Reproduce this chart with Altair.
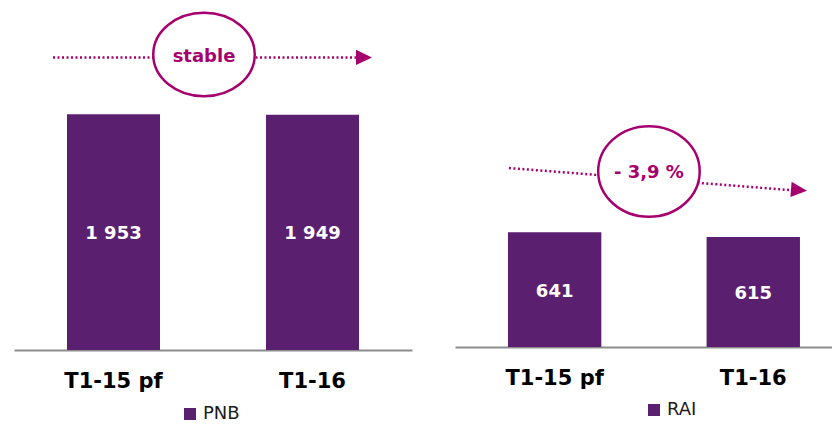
import altair as alt
import pandas as pd

# ---- data ----
categories = ["T1-15 pf", "T1-16"]
pnb_values = [1953, 1949]
rai_values = [641, 615]
pnb_labels = ["1 953", "1 949"]
rai_labels = ["641", "615"]
series = ["PNB", "RAI"]
trend_labels = ["stable", "- 3,9 %"]
pnb_trend = [2424, 2424]   # trend arrow level (start, end) in PNB units
rai_trend = [1000, 877]    # trend arrow level (start, end) in RAI units
pnb_badge = 2448
rai_badge = 981

PURPLE = "#5B1F70"
MAGENTA = "#A6006E"
FONT = "DejaVu Sans"
TRIANGLE = "M -1 -0.95 L 1 0 L -1 0.95 Z"


def ellipse_path(ratio):
    return f"M -1 0 A 1 {ratio} 0 1 0 1 0 A 1 {ratio} 0 1 0 -1 0 Z"


def panel(name, values, labels, trend, badge_y, badge_text, ymax, width, height,
          xscale, legend_xy, offs, ell_ratio, tri_angle, text_dy):
    bars_df = pd.DataFrame({"periode": categories, "valeur": values,
                            "libelle": labels, "serie": [name] * len(categories)})
    trend_df = pd.DataFrame({"debut": [categories[0]], "fin": [categories[1]],
                             "y_debut": [trend[0]], "y_fin": [trend[1]],
                             "badge_y": [badge_y], "texte": [badge_text]})
    xaxis = alt.Axis(labelAngle=0, labelFont=FONT, labelFontSize=21, labelFontWeight="bold",
                     labelColor="black", labelPadding=20, ticks=False,
                     domainColor="#8c8c8c", domainWidth=2, grid=False)
    yscale = alt.Scale(domain=[0, ymax])

    def X(field):
        return alt.X(f"{field}:N", sort=categories, scale=xscale, axis=xaxis, title=None)

    def Y(field):
        return alt.Y(f"{field}:Q", scale=yscale, axis=None)

    base = alt.Chart(bars_df)
    bars = base.mark_bar().encode(
        x=X("periode"), y=Y("valeur"),
        color=alt.Color("serie:N", scale=alt.Scale(domain=[name], range=[PURPLE]),
                        legend=alt.Legend(title=None, orient="none", legendX=legend_xy[0],
                                          legendY=legend_xy[1], symbolType="square",
                                          symbolSize=144, symbolStrokeWidth=0,
                                          labelFont=FONT, labelFontSize=18,
                                          labelColor="#1a1a1a", labelOffset=4, padding=0)))
    vals = base.transform_calculate(milieu="datum.valeur / 2").mark_text(
        font=FONT, fontSize=18, fontWeight="bold", color="white", dy=2
    ).encode(x=X("periode"), y=Y("milieu"), text="libelle:N")

    tb = alt.Chart(trend_df)
    rule = tb.mark_rule(color=MAGENTA, strokeWidth=2.5, strokeDash=[2, 2.5],
                        xOffset=offs[0], x2Offset=offs[1]).encode(
        x=X("debut"), x2=alt.X2("fin"), y=Y("y_debut"), y2=alt.Y2("y_fin"))
    ellipse = tb.mark_point(shape=ellipse_path(ell_ratio), size=10302, filled=True,
                            fill="white", stroke=MAGENTA, strokeWidth=2.5, opacity=1,
                            xOffset=offs[3]).encode(x=X("debut"), y=Y("badge_y"))
    badge = tb.mark_text(font=FONT, fontSize=18, fontWeight="bold", color=MAGENTA,
                         xOffset=offs[3], dy=text_dy).encode(
        x=X("debut"), y=Y("badge_y"), text="texte:N")
    tri = tb.mark_point(shape=TRIANGLE, size=256, filled=True, fill=MAGENTA,
                        strokeWidth=0, opacity=1, xOffset=offs[2], angle=tri_angle).encode(
        x=X("fin"), y=Y("y_fin"))

    return alt.layer(bars, vals, rule, ellipse, badge, tri).properties(width=width, height=height)


left = panel(series[0], pnb_values, pnb_labels, pnb_trend, pnb_badge, trend_labels[0],
             2900, 398, 350,
             alt.Scale(paddingInner=0.5327, paddingOuter=0.26635),
             (167, 405), (-60.5, 44.5, 51.5, 90.5), 0.823, 0, 2)
right = panel(series[1], rai_values, rai_labels, rai_trend, rai_badge, trend_labels[1],
              1939, 377, 347,
              alt.Scale(paddingInner=0.53, paddingOuter=0.214, align=0.623),
              (190, 401), (-45.7, 36.7, 45.7, 94.3), 0.892, 4.5, 1.5)

chart = alt.hconcat(left, right, spacing=43, bounds="flush").resolve_scale(
    color="independent", x="independent", y="independent"
).properties(
    padding={"left": 14, "top": 0, "right": 0, "bottom": 0}
).configure_view(strokeWidth=0)

chart.save("out.html", embed_options={"renderer": "svg", "actions": False})
